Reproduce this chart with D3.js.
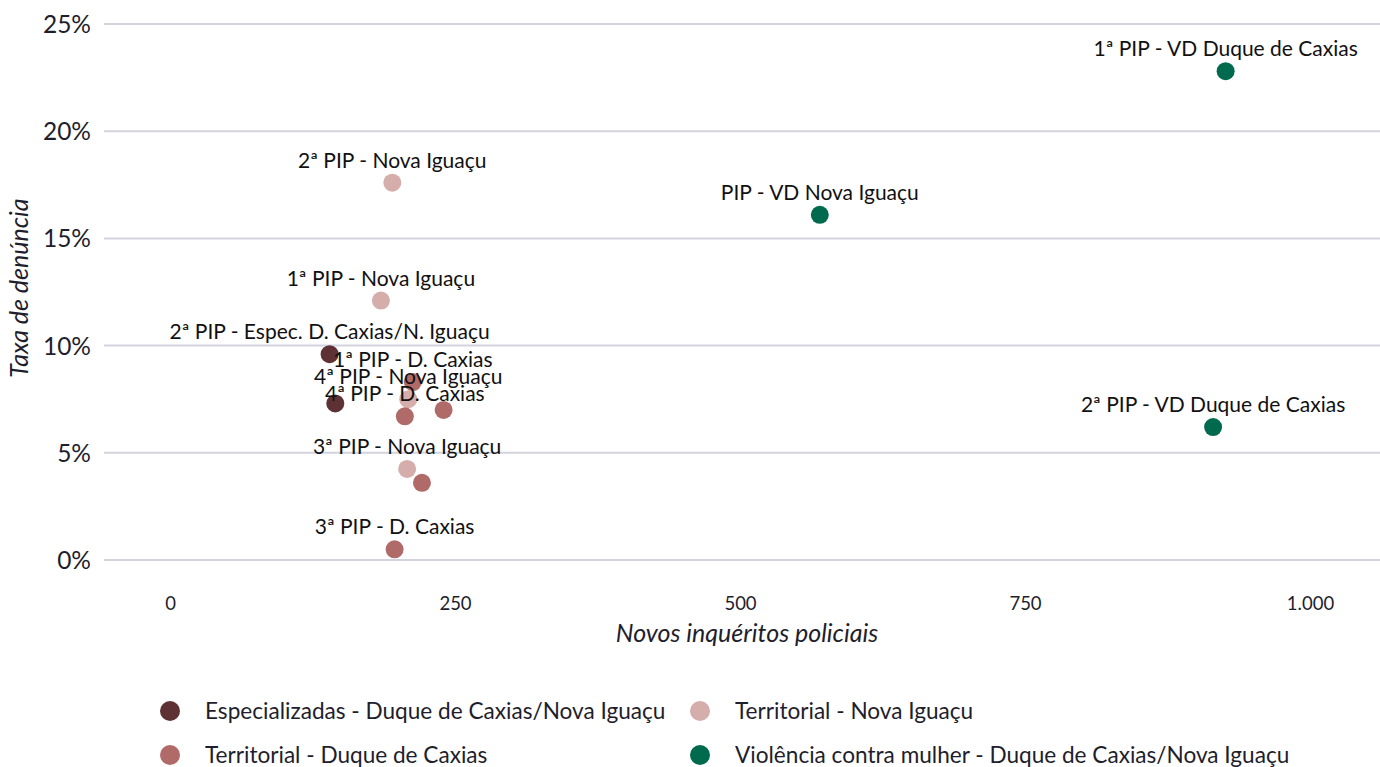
<!DOCTYPE html>
<html>
<head>
<meta charset="utf-8">
<script src="https://cdn.jsdelivr.net/npm/d3@7"></script>
<style>
  body { margin: 0; background: #fff; }
  svg, svg text { font-family: Lato, "Noto Sans", sans-serif; }
</style>
</head>
<body>
<div id="chart"></div>
<script>
// data
const names = [
  "1ª PIP - VD Duque de Caxias", "PIP - VD Nova Iguaçu", "2ª PIP - VD Duque de Caxias",
  "2ª PIP - Nova Iguaçu", "1ª PIP - Nova Iguaçu", "2ª PIP - Espec. D. Caxias/N. Iguaçu",
  "1ª PIP - D. Caxias", "4ª PIP - Nova Iguaçu", "4ª PIP - D. Caxias", "",
  "", "3ª PIP - Nova Iguaçu", "", "3ª PIP - D. Caxias"
];
const inqueritos = [926, 570, 915, 195, 185, 140, 213, 209, 206, 145, 240, 208, 221, 197];
const taxa = [22.8, 16.1, 6.2, 17.6, 12.1, 9.6, 8.3, 7.5, 6.7, 7.3, 7.0, 4.25, 3.6, 0.5];
const grupo = [3, 3, 3, 1, 1, 0, 2, 1, 2, 0, 2, 1, 2, 2];
const groups = [
  "Especializadas - Duque de Caxias/Nova Iguaçu",
  "Territorial - Nova Iguaçu",
  "Territorial - Duque de Caxias",
  "Violência contra mulher - Duque de Caxias/Nova Iguaçu"
];
const groupColors = ["#5e3235", "#d5aeab", "#b06a68", "#006a4e"];
const yTicks = [0, 5, 10, 15, 20, 25];
const xTicks = [0, 250, 500, 750, 1000];

const points = names.map((n, i) => ({ name: n, x: inqueritos[i], y: taxa[i], g: grupo[i] }));

const width = 1380, height = 767;
const svg = d3.select('#chart').append('svg')
  .attr('width', width).attr('height', height);

const xScale = d3.scaleLinear().domain([0, 1000]).range([170, 1310]);
const yScale = d3.scaleLinear().domain([0, 25]).range([560, 24]);
const color = d3.scaleOrdinal().domain(d3.range(4)).range(groupColors);
const textColor = '#1e1e2c';
const font = 'Lato, "Noto Sans", sans-serif';

// gridlines
svg.append('g').selectAll('line')
  .data(yTicks).join('line')
  .attr('x1', 104).attr('x2', 1380)
  .attr('y1', d => yScale(d)).attr('y2', d => yScale(d))
  .attr('stroke', '#d3d3e0').attr('stroke-width', 2);

// y axis
const yAxis = d3.axisLeft(yScale).tickValues(yTicks).tickSize(0).tickPadding(0)
  .tickFormat(d => d + '%');
svg.append('g').attr('transform', 'translate(91,0)').call(yAxis)
  .attr('font-family', font)
  .call(g => g.select('.domain').remove())
  .selectAll('text').attr('fill', textColor).style('font-size', '24.5px')
  .attr('dy', '0.35em');

// x axis
const fmt = d => d3.format(',')(d).replace(',', '.');
const xAxis = d3.axisBottom(xScale).tickValues(xTicks).tickSize(0).tickPadding(0)
  .tickFormat(fmt);
svg.append('g').attr('transform', 'translate(0,597)').call(xAxis)
  .attr('font-family', font)
  .call(g => g.select('.domain').remove())
  .selectAll('text').attr('fill', textColor).style('font-size', '18.5px');

// axis titles
svg.append('text').attr('x', 747).attr('y', 642).attr('text-anchor', 'middle')
  .attr('font-style', 'italic').attr('fill', textColor).style('font-size', '25px')
  .text('Novos inquéritos policiais');
svg.append('text').attr('transform', 'translate(28,288) rotate(-90)').attr('text-anchor', 'middle')
  .attr('font-style', 'italic').attr('fill', textColor).style('font-size', '25px')
  .text('Taxa de denúncia');

// points
svg.append('g').selectAll('circle')
  .data(points).join('circle')
  .attr('cx', d => xScale(d.x)).attr('cy', d => yScale(d.y))
  .attr('r', 9).attr('fill', d => color(d.g));

// labels
svg.append('g').selectAll('text')
  .data(points.filter(d => d.name)).join('text')
  .attr('x', d => xScale(d.x)).attr('y', d => yScale(d.y) - 15)
  .attr('text-anchor', 'middle').attr('fill', '#111').style('font-size', '21px')
  .text(d => d.name);

// legend
const legend = svg.append('g').selectAll('g')
  .data(groups).join('g')
  .attr('transform', (d, i) => `translate(${i % 2 === 0 ? 170 : 700},${i < 2 ? 711 : 755})`);
legend.append('circle').attr('r', 10).attr('fill', (d, i) => color(i));
legend.append('text').attr('x', 35).attr('dy', '0.35em').attr('fill', textColor)
  .style('font-size', '22.6px').text(d => d);
</script>
</body>
</html>
